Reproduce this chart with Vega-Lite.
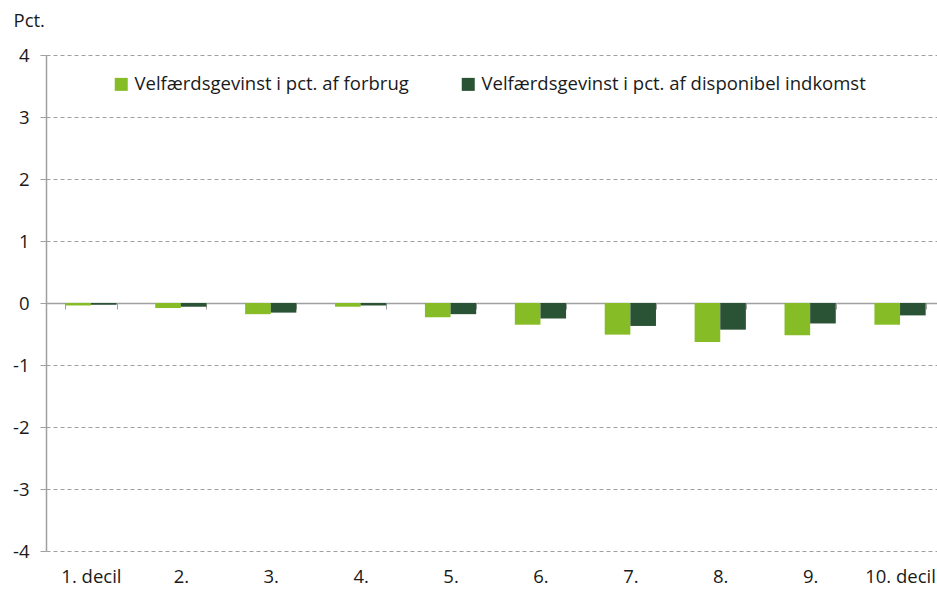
{
  "$schema": "https://vega.github.io/schema/vega-lite/v6.json",
  "width": 899,
  "height": 496,
  "autosize": {"type": "none"},
  "padding": {"left": 46, "top": 55, "right": 0, "bottom": 38},
  "background": "white",
  "config": {
    "font": "Open Sans",
    "view": {"stroke": null}
  },
  "data": {
    "values": [
      {"decil": "1. decil", "serie": "Velfærdsgevinst i pct. af forbrug", "value": -0.04},
      {"decil": "1. decil", "serie": "Velfærdsgevinst i pct. af disponibel indkomst", "value": -0.03},
      {"decil": "2.", "serie": "Velfærdsgevinst i pct. af forbrug", "value": -0.08},
      {"decil": "2.", "serie": "Velfærdsgevinst i pct. af disponibel indkomst", "value": -0.06},
      {"decil": "3.", "serie": "Velfærdsgevinst i pct. af forbrug", "value": -0.18},
      {"decil": "3.", "serie": "Velfærdsgevinst i pct. af disponibel indkomst", "value": -0.155},
      {"decil": "4.", "serie": "Velfærdsgevinst i pct. af forbrug", "value": -0.06},
      {"decil": "4.", "serie": "Velfærdsgevinst i pct. af disponibel indkomst", "value": -0.04},
      {"decil": "5.", "serie": "Velfærdsgevinst i pct. af forbrug", "value": -0.23},
      {"decil": "5.", "serie": "Velfærdsgevinst i pct. af disponibel indkomst", "value": -0.18},
      {"decil": "6.", "serie": "Velfærdsgevinst i pct. af forbrug", "value": -0.35},
      {"decil": "6.", "serie": "Velfærdsgevinst i pct. af disponibel indkomst", "value": -0.25},
      {"decil": "7.", "serie": "Velfærdsgevinst i pct. af forbrug", "value": -0.51},
      {"decil": "7.", "serie": "Velfærdsgevinst i pct. af disponibel indkomst", "value": -0.37},
      {"decil": "8.", "serie": "Velfærdsgevinst i pct. af forbrug", "value": -0.63},
      {"decil": "8.", "serie": "Velfærdsgevinst i pct. af disponibel indkomst", "value": -0.43},
      {"decil": "9.", "serie": "Velfærdsgevinst i pct. af forbrug", "value": -0.52},
      {"decil": "9.", "serie": "Velfærdsgevinst i pct. af disponibel indkomst", "value": -0.33},
      {"decil": "10. decil", "serie": "Velfærdsgevinst i pct. af forbrug", "value": -0.35},
      {"decil": "10. decil", "serie": "Velfærdsgevinst i pct. af disponibel indkomst", "value": -0.20}
    ]
  },
  "mark": {"type": "bar"},
  "encoding": {
    "x": {
      "field": "decil",
      "type": "nominal",
      "sort": null,
      "scale": {"paddingInner": 0.43, "paddingOuter": 0.215},
      "axis": {
        "title": null,
        "labelAngle": 0,
        "offset": -248,
        "domainColor": "#a0a0a0",
        "domainWidth": 1.5,
        "tickColor": "#a0a0a0",
        "tickSize": 6,
        "tickBand": "extent",
        "labelPadding": 258,
        "labelFontSize": 18.5,
        "labelColor": "#1a1a1a",
        "grid": false
      }
    },
    "xOffset": {"field": "serie", "type": "nominal", "sort": null},
    "y": {
      "field": "value",
      "type": "quantitative",
      "scale": {"domain": [-4, 4], "nice": false},
      "axis": {
        "values": [-4, -3, -2, -1, 0, 1, 2, 3, 4],
        "labelExpr": "datum.value < 0 ? '-' + abs(datum.value) : datum.label",
        "title": "Pct.",
        "titleAngle": 0,
        "titleAlign": "left",
        "titleBaseline": "middle",
        "titleX": -33,
        "titleY": -35,
        "titleFontSize": 18.5,
        "titleFontWeight": "normal",
        "titleColor": "#1a1a1a",
        "labelFontSize": 18.5,
        "labelColor": "#1a1a1a",
        "labelPadding": 11,
        "tickSize": 6,
        "tickColor": "#a0a0a0",
        "domainColor": "#a0a0a0",
        "domainWidth": 1.5,
        "grid": true,
        "gridDash": [4, 3],
        "gridColor": "#a0a0a0",
        "gridWidth": 1
      }
    },
    "color": {
      "field": "serie",
      "type": "nominal",
      "sort": null,
      "scale": {"range": ["#86bc25", "#2a5234"]},
      "legend": {
        "title": null,
        "orient": "none",
        "direction": "horizontal",
        "legendX": 66,
        "legendY": 20,
        "symbolType": "square",
        "symbolSize": 169,
        "symbolStrokeWidth": 0,
        "labelFontSize": 18.5,
        "labelColor": "#1a1a1a",
        "labelOffset": 4,
        "columnPadding": 50,
        "labelLimit": 600
      }
    }
  }
}
